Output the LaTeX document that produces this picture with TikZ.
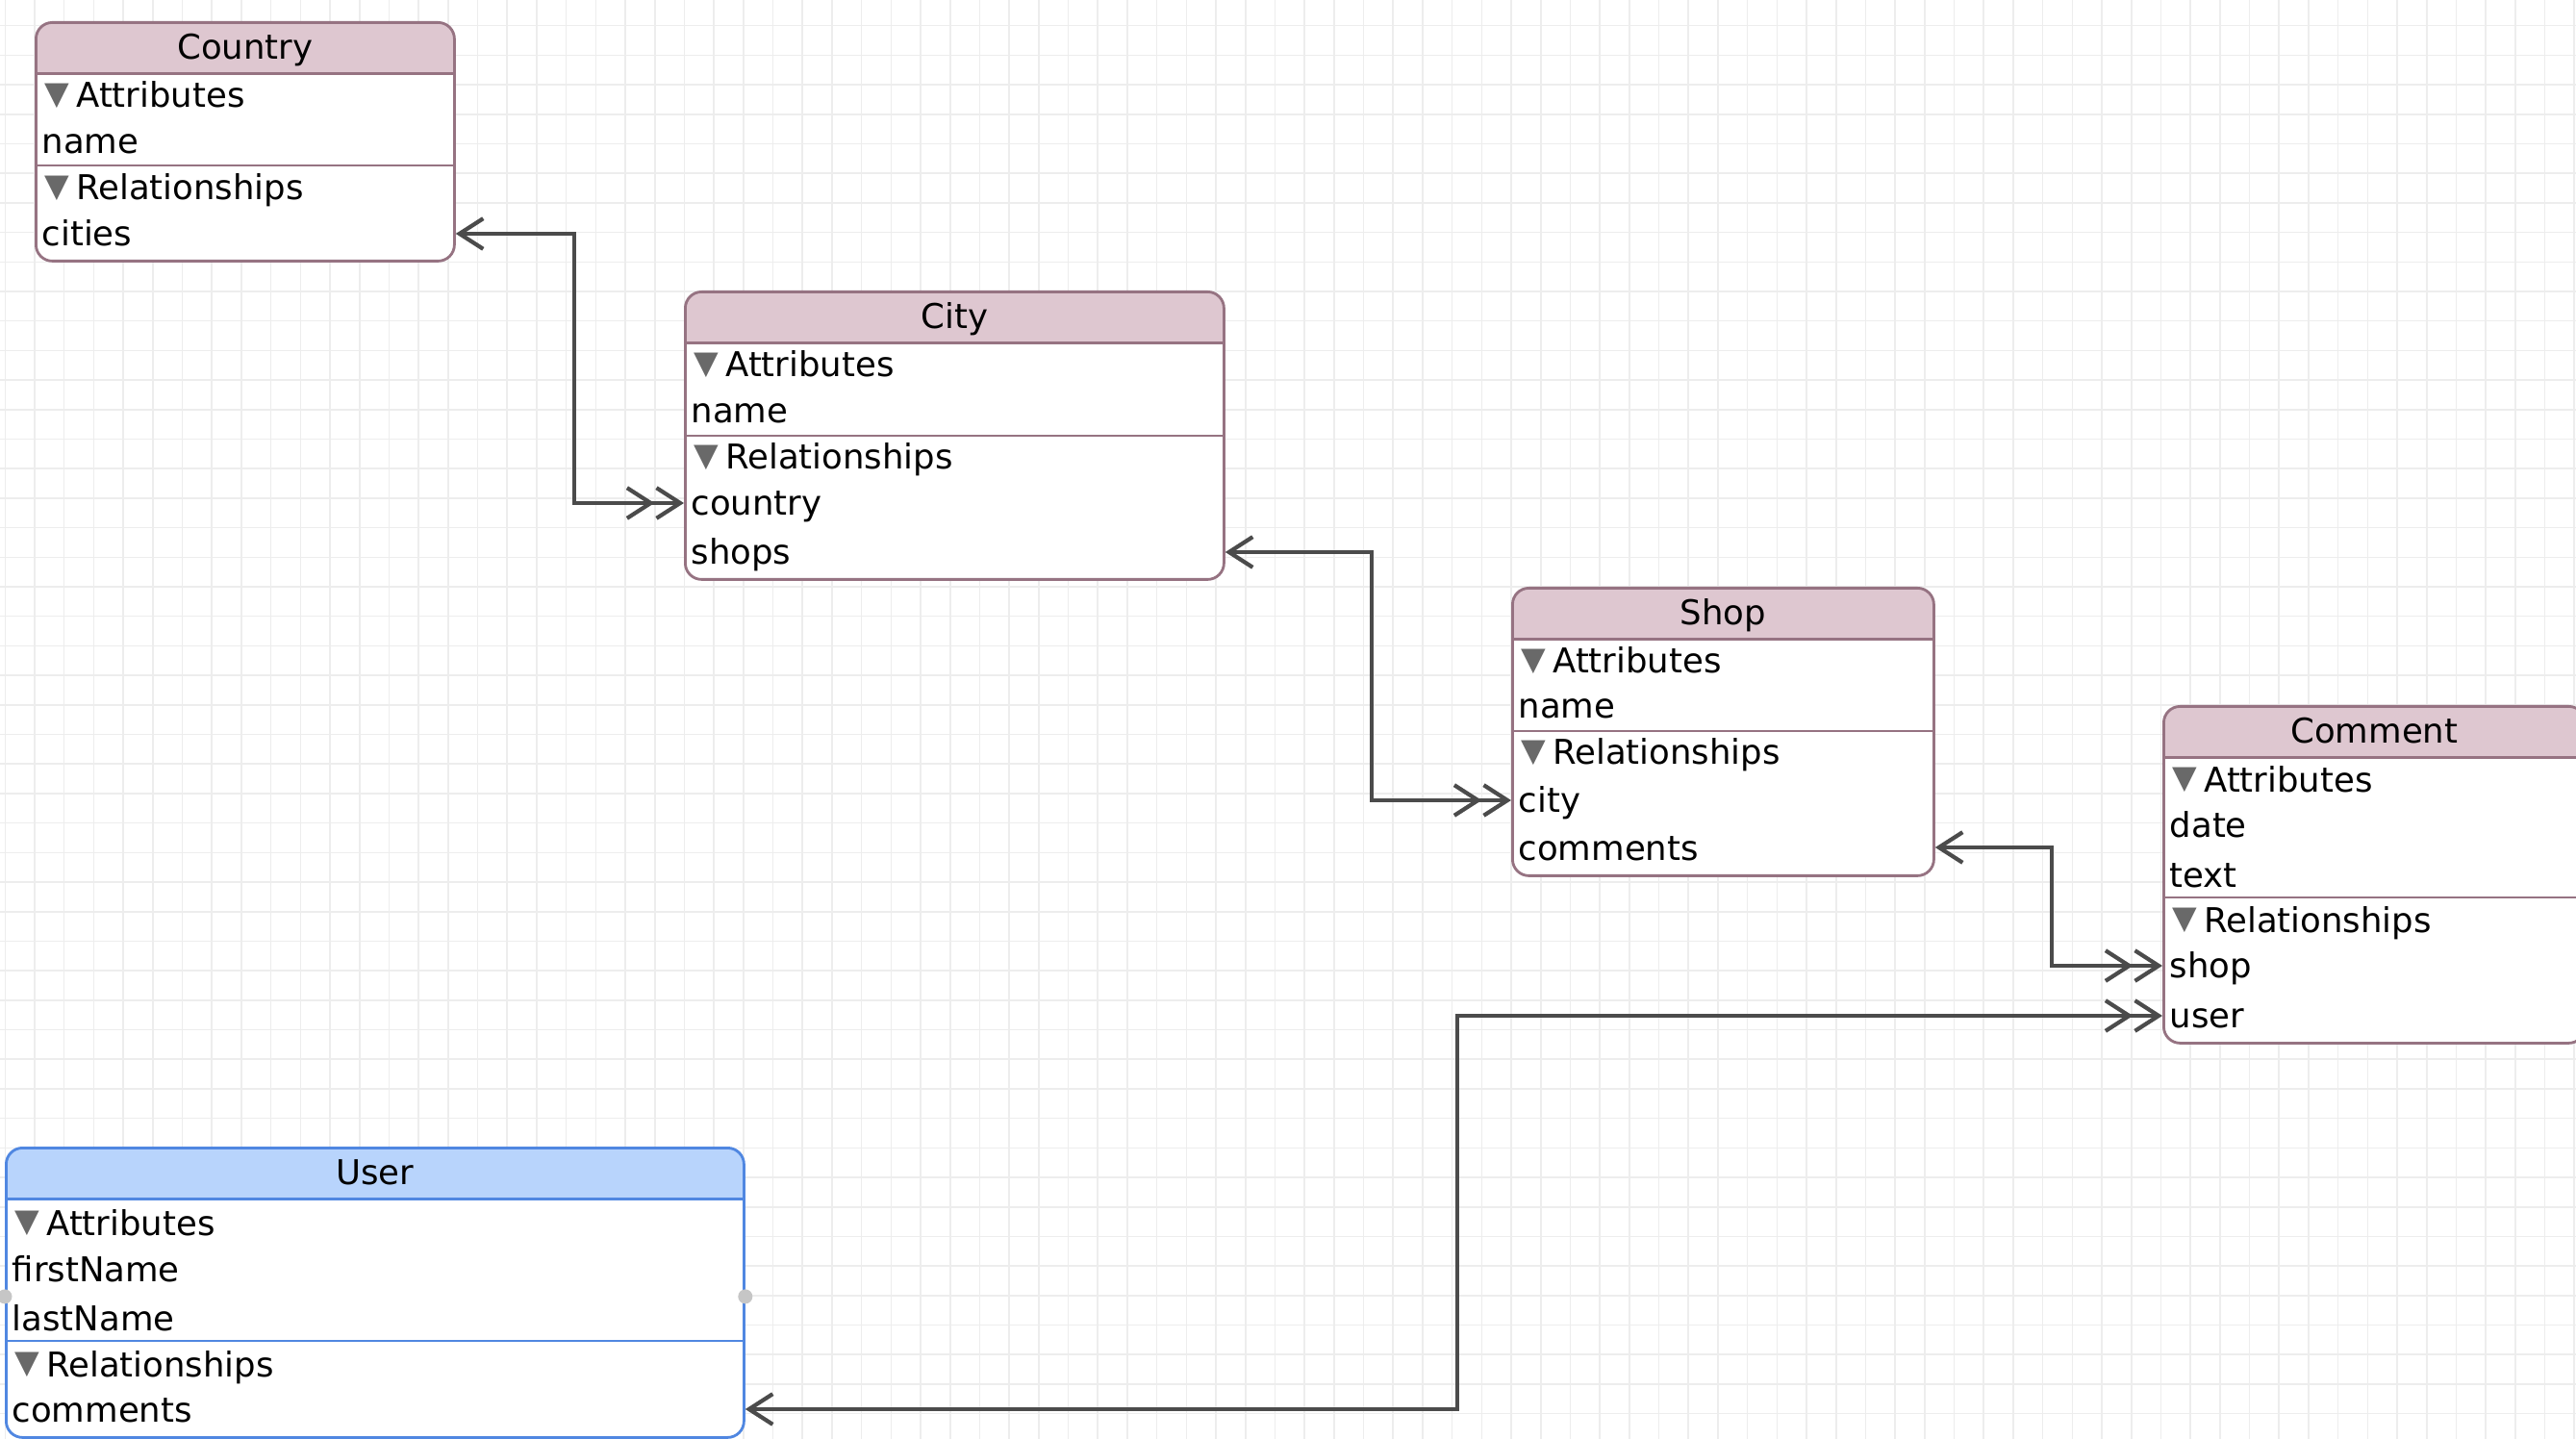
\documentclass[tikz,border=0pt]{standalone}
\usepackage{fontspec}
\setmainfont{DejaVu Sans}
\usetikzlibrary{arrows.meta}

\definecolor{headpink}{RGB}{222,199,208}
\definecolor{linepink}{RGB}{150,115,130}
\definecolor{headblue}{RGB}{184,212,252}
\definecolor{lineblue}{RGB}{80,135,225}
\definecolor{relgray}{RGB}{75,75,75}
\definecolor{gridgray}{RGB}{237,237,237}
\definecolor{discgray}{RGB}{105,105,105}

\newcommand{\disclose}{\raisebox{0.035cm}{\color{discgray}\fontsize{9.5}{10}\selectfont ▼}\hspace{0.07cm}}

\tikzset{
  ebox/.style 2 args={draw=#2, fill=white, line width=0.8pt, rounded corners=0.17cm,
    anchor=north west, inner sep=0pt,
    path picture={
      \fill[#1, sharp corners] (path picture bounding box.north west) rectangle
        ([yshift=-0.53cm]path picture bounding box.north east);
      \draw[#2, line width=0.8pt, sharp corners] ([yshift=-0.53cm]path picture bounding box.north west) --
        ([yshift=-0.53cm]path picture bounding box.north east);}},
  entity/.style={ebox={headpink}{linepink}},
  userentity/.style={ebox={headblue}{lineblue}},
  headtext/.style={font=\fontsize{10.1}{12}\selectfont, inner sep=0pt, text height=0.30cm, text depth=0.04cm},
  fieldtext/.style={headtext, anchor=west},
  rel/.style={draw=relgray, line width=1.2pt, >={Straight Barb[length=7pt,width=9pt]}, <->>},
  gridline/.style={draw=gridgray, line width=0.45pt},
  handle/.style={fill=gray!45},
}

\begin{document}
\begin{tikzpicture}
\useasboundingbox (0,0) rectangle (26.78,-14.96);
\clip (0,0) rectangle (26.78,-14.96);
\fill[white] (0,0) rectangle (26.78,-14.96);

% grid
\begin{scope}[shift={(0.053,-0.267)}]
\draw[gridline, step=0.307] (-0.4,-15.3) grid (26.9,0.4);
\end{scope}

% Country
\node[entity, minimum width=4.35cm, minimum height=2.48cm] (country) at (0.36,-0.22) {};
\node[headtext] (country-title) at ([yshift=-0.265cm]country.north) {Country};
\draw[linepink, line width=0.8pt] (0.36,-1.72) -- (4.71,-1.72);
\node[fieldtext] (country-attr) at (0.46,-0.99) {\disclose Attributes};
\node[fieldtext] (country-name) at (0.43,-1.47) {name};
\node[fieldtext] (country-rel) at (0.46,-1.95) {\disclose Relationships};
\node[fieldtext] (country-cities) at (0.43,-2.43) {cities};

% City
\node[entity, minimum width=5.60cm, minimum height=2.99cm] (city) at (7.11,-3.02) {};
\node[headtext] (city-title) at ([yshift=-0.265cm]city.north) {City};
\draw[linepink, line width=0.8pt] (7.11,-4.53) -- (12.71,-4.53);
\node[fieldtext] (city-attr) at (7.21,-3.79) {\disclose Attributes};
\node[fieldtext] (city-name) at (7.18,-4.27) {name};
\node[fieldtext] (city-rel) at (7.21,-4.75) {\disclose Relationships};
\node[fieldtext] (city-country) at (7.18,-5.23) {country};
\node[fieldtext] (city-shops) at (7.18,-5.74) {shops};

% Shop
\node[entity, minimum width=4.38cm, minimum height=2.99cm] (shop) at (15.71,-6.10) {};
\node[headtext] (shop-title) at ([yshift=-0.265cm]shop.north) {Shop};
\draw[linepink, line width=0.8pt] (15.71,-7.60) -- (20.09,-7.60);
\node[fieldtext] (shop-attr) at (15.81,-6.87) {\disclose Attributes};
\node[fieldtext] (shop-name) at (15.78,-7.34) {name};
\node[fieldtext] (shop-rel) at (15.81,-7.82) {\disclose Relationships};
\node[fieldtext] (shop-city) at (15.78,-8.32) {city};
\node[fieldtext] (shop-comments) at (15.78,-8.81) {comments};

% Comment
\node[entity, minimum width=4.38cm, minimum height=3.50cm] (comment) at (22.48,-7.33) {};
\node[headtext] (comment-title) at ([yshift=-0.265cm]comment.north) {Comment};
\draw[linepink, line width=0.8pt] (22.48,-9.33) -- (26.86,-9.33);
\node[fieldtext] (comment-attr) at (22.58,-8.10) {\disclose Attributes};
\node[fieldtext] (comment-date) at (22.55,-8.57) {date};
\node[fieldtext] (comment-text) at (22.55,-9.09) {text};
\node[fieldtext] (comment-rel) at (22.58,-9.56) {\disclose Relationships};
\node[fieldtext] (comment-shop) at (22.55,-10.04) {shop};
\node[fieldtext] (comment-user) at (22.55,-10.56) {user};

% User (selected)
\node[userentity, minimum width=7.67cm, minimum height=3.01cm] (user) at (0.05,-11.92) {};
\node[headtext] (user-title) at ([yshift=-0.265cm]user.north) {User};
\draw[lineblue, line width=0.8pt] (0.05,-13.94) -- (7.72,-13.94);
\node[fieldtext] (user-attr) at (0.15,-12.71) {\disclose Attributes};
\node[fieldtext] (user-first) at (0.12,-13.19) {firstName};
\node[fieldtext] (user-last) at (0.12,-13.70) {lastName};
\node[fieldtext] (user-rel) at (0.15,-14.18) {\disclose Relationships};
\node[fieldtext] (user-comments) at (0.12,-14.65) {comments};
\fill[handle] ([yshift=-0.04cm]user.west) circle (0.075);
\fill[handle] ([yshift=-0.04cm]user.east) circle (0.075);

% relationships
\draw[rel] (country.east |- country-cities) -- ++(1.23,0) |- (city.west |- city-country);
\draw[rel] (city.east |- city-shops) -- ++(1.52,0) |- (shop.west |- shop-city);
\draw[rel] (shop.east |- shop-comments) -- ++(1.21,0) |- (comment.west |- comment-shop);
\draw[rel] (user.east |- user-comments) -- ++(7.40,0) |- (comment.west |- comment-user);
\end{tikzpicture}
\end{document}
